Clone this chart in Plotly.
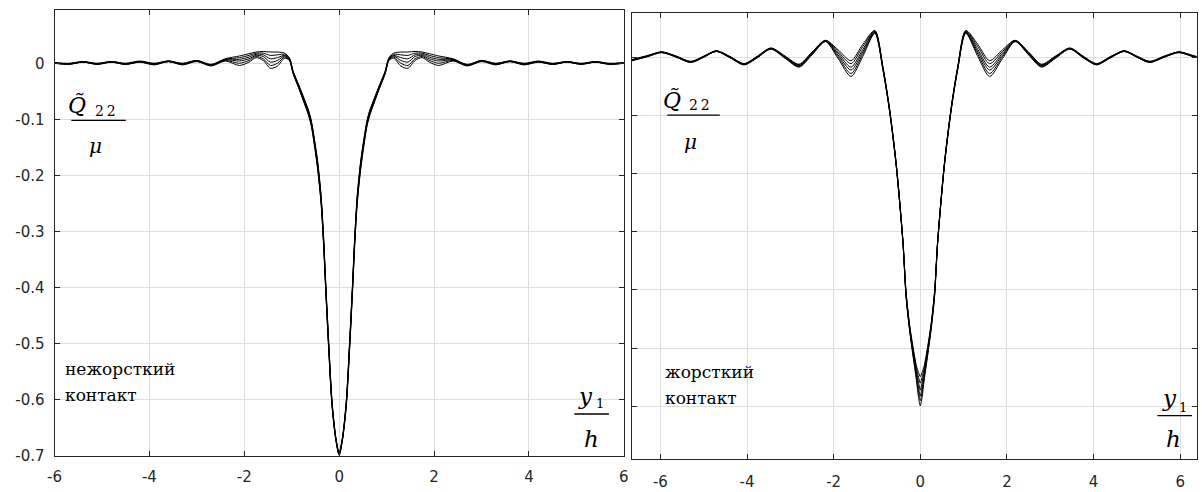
import plotly.graph_objects as go

# ---- data: normalised stress Q22/mu versus y1/h, six curves per contact case ----
x_soft = [-6.0, -5.7, -5.4, -5.1, -4.8, -4.5, -4.2, -3.9, -3.6, -3.3, -3.0, -2.7, -2.4,
          -2.1, -1.9, -1.75, -1.6, -1.45, -1.3, -1.15, -1.05,
          -0.97, -0.85, -0.73, -0.65, -0.59, -0.52, -0.45, -0.38, -0.33, -0.28, -0.22, -0.15, -0.07,
          0.0,
          0.07, 0.15, 0.22, 0.28, 0.33, 0.38, 0.45, 0.52, 0.59, 0.65, 0.73, 0.85, 0.97,
          1.05, 1.15, 1.3, 1.45, 1.6, 1.75, 1.9, 2.1,
          2.4, 2.7, 3.0, 3.3, 3.6, 3.9, 4.2, 4.5, 4.8, 5.1, 5.4, 5.7, 6.0]

soft_1 = [0.002, 0.001, 0.004, 0.001, 0.004, 0.001, 0.005, 0.001, 0.005, 0.001, 0.006, -0.001, 0.009,
          0.014, 0.018, 0.021, 0.022, 0.021, 0.021, 0.019, 0.011,
          -0.013, -0.038, -0.064, -0.082, -0.100, -0.135, -0.176, -0.236, -0.306, -0.396, -0.496, -0.602, -0.667,
          -0.694,
          -0.667, -0.602, -0.496, -0.396, -0.306, -0.236, -0.176, -0.135, -0.100, -0.082, -0.064, -0.038, -0.013,
          0.011, 0.019, 0.021, 0.021, 0.022, 0.021, 0.018, 0.014,
          0.009, -0.001, 0.006, 0.001, 0.005, 0.001, 0.005, 0.001, 0.004, 0.001, 0.004, 0.001, 0.002]
soft_2 = [0.002, 0.000, 0.004, 0.000, 0.004, 0.000, 0.004, 0.000, 0.005, 0.000, 0.006, -0.002, 0.008,
          0.011, 0.015, 0.019, 0.019, 0.015, 0.016, 0.017, 0.010,
          -0.014, -0.039, -0.065, -0.083, -0.102, -0.137, -0.179, -0.239, -0.309, -0.399, -0.499, -0.604, -0.668,
          -0.695,
          -0.668, -0.604, -0.499, -0.399, -0.309, -0.239, -0.179, -0.137, -0.102, -0.083, -0.065, -0.039, -0.014,
          0.010, 0.017, 0.016, 0.015, 0.019, 0.019, 0.015, 0.011,
          0.008, -0.002, 0.006, 0.000, 0.005, 0.000, 0.004, 0.000, 0.004, 0.000, 0.004, 0.000, 0.002]
soft_3 = [0.002, 0.000, 0.003, 0.000, 0.004, 0.000, 0.004, 0.000, 0.005, 0.000, 0.005, -0.002, 0.008,
          0.008, 0.012, 0.017, 0.016, 0.009, 0.011, 0.015, 0.009,
          -0.015, -0.040, -0.067, -0.085, -0.104, -0.139, -0.182, -0.242, -0.312, -0.402, -0.502, -0.606, -0.669,
          -0.696,
          -0.669, -0.606, -0.502, -0.402, -0.312, -0.242, -0.182, -0.139, -0.104, -0.085, -0.067, -0.040, -0.015,
          0.009, 0.015, 0.011, 0.009, 0.016, 0.017, 0.012, 0.008,
          0.008, -0.002, 0.005, 0.000, 0.005, 0.000, 0.004, 0.000, 0.004, 0.000, 0.003, 0.000, 0.002]
soft_4 = [0.001, 0.000, 0.003, 0.000, 0.003, -0.001, 0.004, -0.001, 0.004, -0.001, 0.005, -0.003, 0.007,
          0.005, 0.009, 0.015, 0.013, 0.003, 0.006, 0.014, 0.008,
          -0.016, -0.042, -0.069, -0.087, -0.106, -0.142, -0.185, -0.245, -0.315, -0.405, -0.505, -0.608, -0.670,
          -0.697,
          -0.670, -0.608, -0.505, -0.405, -0.315, -0.245, -0.185, -0.142, -0.106, -0.087, -0.069, -0.042, -0.016,
          0.008, 0.014, 0.006, 0.003, 0.013, 0.015, 0.009, 0.005,
          0.007, -0.003, 0.005, -0.001, 0.004, -0.001, 0.004, -0.001, 0.003, 0.000, 0.003, 0.000, 0.001]
soft_5 = [0.001, -0.001, 0.003, -0.001, 0.003, -0.001, 0.003, -0.001, 0.004, -0.001, 0.005, -0.003, 0.006,
          0.001, 0.006, 0.013, 0.009, -0.003, 0.001, 0.012, 0.007,
          -0.017, -0.043, -0.070, -0.089, -0.108, -0.144, -0.188, -0.248, -0.318, -0.408, -0.508, -0.610, -0.671,
          -0.698,
          -0.671, -0.610, -0.508, -0.408, -0.318, -0.248, -0.188, -0.144, -0.108, -0.089, -0.070, -0.043, -0.017,
          0.007, 0.012, 0.001, -0.003, 0.009, 0.013, 0.006, 0.001,
          0.006, -0.003, 0.005, -0.001, 0.004, -0.001, 0.003, -0.001, 0.003, -0.001, 0.003, -0.001, 0.001]
soft_6 = [0.001, -0.001, 0.003, -0.001, 0.003, -0.001, 0.003, -0.002, 0.004, -0.002, 0.004, -0.004, 0.005,
          -0.003, 0.003, 0.011, 0.006, -0.008, -0.004, 0.010, 0.006,
          -0.018, -0.044, -0.072, -0.091, -0.110, -0.147, -0.191, -0.251, -0.321, -0.411, -0.511, -0.612, -0.672,
          -0.699,
          -0.672, -0.612, -0.511, -0.411, -0.321, -0.251, -0.191, -0.147, -0.110, -0.091, -0.072, -0.044, -0.018,
          0.006, 0.010, -0.004, -0.008, 0.006, 0.011, 0.003, -0.003,
          0.005, -0.004, 0.004, -0.002, 0.004, -0.002, 0.003, -0.001, 0.003, -0.001, 0.003, -0.001, 0.001]

x_rigid = [-6.7, -6.3, -5.97, -5.63, -5.3, -5.0, -4.71, -4.39, -4.07, -3.76, -3.45, -3.12, -2.8, -2.5,
           -2.19, -1.9, -1.6, -1.33, -1.05, -0.86, -0.71, -0.555, -0.40, -0.33, -0.25, -0.175, -0.09, -0.04,
           0.0,
           0.04, 0.09, 0.175, 0.25, 0.33, 0.40, 0.555, 0.71, 0.86, 1.05, 1.33, 1.6, 1.9, 2.19,
           2.5, 2.8, 3.12, 3.45, 3.76, 4.07, 4.39, 4.71, 5.0, 5.3, 5.63, 5.97, 6.3, 6.7]

rigid_1 = [-0.005, 0.003, 0.009, 0.002, -0.007, 0.002, 0.011, 0.001, -0.011, 0.002, 0.016, 0.002, -0.012, 0.009,
           0.029, 0.013, -0.006, 0.022, 0.046, -0.018, -0.088, -0.183, -0.316, -0.402, -0.458, -0.495, -0.530, -0.542,
           -0.549,
           -0.542, -0.530, -0.495, -0.458, -0.402, -0.316, -0.183, -0.088, -0.018, 0.046, 0.022, -0.006, 0.013, 0.029,
           0.009, -0.012, 0.002, 0.016, 0.002, -0.011, 0.001, 0.011, 0.002, -0.007, 0.002, 0.009, 0.003, -0.005]
rigid_2 = [-0.005, 0.002, 0.009, 0.001, -0.008, 0.001, 0.011, 0.001, -0.011, 0.001, 0.015, 0.001, -0.013, 0.008,
           0.029, 0.010, -0.011, 0.018, 0.045, -0.019, -0.089, -0.184, -0.317, -0.403, -0.460, -0.498, -0.535, -0.550,
           -0.560,
           -0.550, -0.535, -0.498, -0.460, -0.403, -0.317, -0.184, -0.089, -0.019, 0.045, 0.018, -0.011, 0.010, 0.029,
           0.008, -0.013, 0.001, 0.015, 0.001, -0.011, 0.001, 0.011, 0.001, -0.008, 0.001, 0.009, 0.002, -0.005]
rigid_3 = [-0.006, 0.002, 0.009, 0.001, -0.008, 0.001, 0.011, 0.000, -0.012, 0.001, 0.015, 0.000, -0.014, 0.007,
           0.028, 0.007, -0.017, 0.013, 0.044, -0.020, -0.090, -0.185, -0.318, -0.405, -0.462, -0.501, -0.540, -0.559,
           -0.572,
           -0.559, -0.540, -0.501, -0.462, -0.405, -0.318, -0.185, -0.090, -0.020, 0.044, 0.013, -0.017, 0.007, 0.028,
           0.007, -0.014, 0.000, 0.015, 0.001, -0.012, 0.000, 0.011, 0.001, -0.008, 0.001, 0.009, 0.002, -0.006]
rigid_4 = [-0.006, 0.002, 0.009, 0.001, -0.008, 0.001, 0.010, 0.000, -0.012, 0.000, 0.015, 0.000, -0.015, 0.006,
           0.028, 0.004, -0.022, 0.009, 0.043, -0.021, -0.091, -0.186, -0.319, -0.407, -0.464, -0.504, -0.545, -0.568,
           -0.582,
           -0.568, -0.545, -0.504, -0.464, -0.407, -0.319, -0.186, -0.091, -0.021, 0.043, 0.009, -0.022, 0.004, 0.028,
           0.006, -0.015, 0.000, 0.015, 0.000, -0.012, 0.000, 0.010, 0.001, -0.008, 0.001, 0.009, 0.002, -0.006]
rigid_5 = [-0.006, 0.001, 0.008, 0.000, -0.009, 0.000, 0.010, -0.001, -0.013, 0.000, 0.014, -0.001, -0.016, 0.005,
           0.027, 0.001, -0.028, 0.005, 0.042, -0.022, -0.092, -0.187, -0.320, -0.409, -0.466, -0.507, -0.550, -0.576,
           -0.590,
           -0.576, -0.550, -0.507, -0.466, -0.409, -0.320, -0.187, -0.092, -0.022, 0.042, 0.005, -0.028, 0.001, 0.027,
           0.005, -0.016, -0.001, 0.014, 0.000, -0.013, -0.001, 0.010, 0.000, -0.009, 0.000, 0.008, 0.001, -0.006]
rigid_6 = [-0.007, 0.001, 0.008, 0.000, -0.009, 0.000, 0.010, -0.001, -0.013, -0.001, 0.014, -0.002, -0.017, 0.004,
           0.027, -0.002, -0.033, 0.001, 0.041, -0.023, -0.093, -0.188, -0.321, -0.411, -0.468, -0.510, -0.555, -0.585,
           -0.599,
           -0.585, -0.555, -0.510, -0.468, -0.411, -0.321, -0.188, -0.093, -0.023, 0.041, 0.001, -0.033, -0.002, 0.027,
           0.004, -0.017, -0.002, 0.014, -0.001, -0.013, -0.001, 0.010, 0.000, -0.009, 0.000, 0.008, 0.001, -0.007]

x_ticks = [-6, -4, -2, 0, 2, 4, 6]
x_tick_text = ["-6", "-4", "-2", "0", "2", "4", "6"]
y_ticks = [0, -0.1, -0.2, -0.3, -0.4, -0.5, -0.6, -0.7]
y_tick_text = ["0", "-0.1", "-0.2", "-0.3", "-0.4", "-0.5", "-0.6", "-0.7"]

label_soft = ["нежорсткий", "контакт"]
label_rigid = ["жорсткий", "контакт"]

# ---- page geometry (pixels) ----
W, H = 1202, 492


def px(x):
    return x / W


def py(y):
    return 1 - y / H


AXIS_COLOR = "#262626"
GRID_COLOR = "#dedede"
TICK_FONT = dict(family="DejaVu Sans", size=15, color="#262626")
SERIF = "DejaVu Serif"

fig = go.Figure()

for ys in [soft_1, soft_2, soft_3, soft_4, soft_5, soft_6]:
    fig.add_trace(go.Scatter(x=x_soft, y=ys, mode="lines", xaxis="x", yaxis="y",
                             line=dict(color="black", width=1, shape="spline", smoothing=0.8),
                             showlegend=False, hoverinfo="skip"))

for ys in [rigid_1, rigid_2, rigid_3, rigid_4, rigid_5, rigid_6]:
    fig.add_trace(go.Scatter(x=x_rigid, y=ys, mode="lines", xaxis="x2", yaxis="y2",
                             line=dict(color="black", width=1, shape="spline", smoothing=0.8),
                             showlegend=False, hoverinfo="skip"))

axis_common = dict(showline=True, linecolor=AXIS_COLOR, linewidth=1, mirror="allticks",
                   ticks="inside", ticklen=5, tickcolor=AXIS_COLOR, tickwidth=1,
                   showgrid=True, gridcolor=GRID_COLOR, gridwidth=1, zeroline=False,
                   tickfont=TICK_FONT)

fig.update_layout(
    width=W, height=H,
    margin=dict(l=0, r=0, t=0, b=0),
    paper_bgcolor="white", plot_bgcolor="white",
    font=dict(family=SERIF),
    xaxis=dict(domain=[px(48), px(623)], range=[-6, 6], anchor="y",
               tickvals=x_ticks, ticktext=x_tick_text, ticklabelstandoff=7, **axis_common),
    yaxis=dict(domain=[py(464.3), py(10)], range=[-0.7, 0.0964], anchor="x",
               tickvals=y_ticks, ticktext=y_tick_text, ticklabelstandoff=6, **axis_common),
    xaxis2=dict(domain=[px(631), px(1201.5)], range=[-6.663, 6.377], anchor="y2",
                tickvals=x_ticks, ticktext=x_tick_text, ticklabelstandoff=9, **axis_common),
    yaxis2=dict(domain=[py(467.3), py(13.3)], range=[-0.69, 0.0759], anchor="x2",
                tickvals=y_ticks, showticklabels=False, **axis_common),
)

shapes = []
annotations = []


def text_at(x, y, text, size, anchor="center"):
    annotations.append(dict(xref="paper", yref="paper", x=px(x), y=py(y),
                            text=text, showarrow=False, xanchor=anchor, yanchor="middle",
                            align="left", font=dict(family=SERIF, size=size, color="black")))


def fraction_label(num_x, num_y, sub_x, sub_y, bar_x0, bar_x1, bar_y, den_x, den_y,
                   numerator, subscript, denominator, box, num_size, sub_size, den_size):
    # white patch hiding the grid behind the label
    shapes.append(dict(type="rect", xref="paper", yref="paper", layer="between",
                       x0=px(box[0]), x1=px(box[1]), y0=py(box[3]), y1=py(box[2]),
                       fillcolor="white", line=dict(width=0)))
    shapes.append(dict(type="line", xref="paper", yref="paper",
                       x0=px(bar_x0), x1=px(bar_x1), y0=py(bar_y), y1=py(bar_y),
                       line=dict(color="black", width=1.3)))
    text_at(num_x, num_y, numerator, num_size)
    text_at(sub_x, sub_y, subscript, sub_size)
    text_at(den_x, den_y, denominator, den_size)


# Q22 / mu labels
fraction_label(71, 107, 99, 113, 65, 120, 122.7, 89, 149,
               "<i>Q̃</i>", "2\u20092", "<i>μ</i>", (52, 124, 86, 162), 22, 14, 20)
fraction_label(672, 102, 699, 107, 667, 720, 117.3, 690, 145,
               "<i>Q̃</i>", "2\u20092", "<i>μ</i>", (652, 724, 82, 158), 22, 14, 20)
# y1 / h labels
fraction_label(584, 403, 599, 411, 573, 608, 421.7, 590.5, 447,
               "<i>y</i>", "1", "<i>h</i>", (570, 621, 390, 455), 23, 13, 23)
fraction_label(1174, 405, 1188, 415, 1162, 1197, 423.3, 1178.5, 447,
               "<i>y</i>", "1", "<i>h</i>", (1159, 1200, 392, 457), 23, 13, 23)

# contact type captions, one annotation per line
text_at(57, 376, label_soft[0], 17, anchor="left")
text_at(57, 402, label_soft[1], 17, anchor="left")
text_at(663, 379, label_rigid[0], 17, anchor="left")
text_at(663, 405, label_rigid[1], 17, anchor="left")

fig.update_layout(shapes=shapes, annotations=annotations)

fig.write_html("out.html")
